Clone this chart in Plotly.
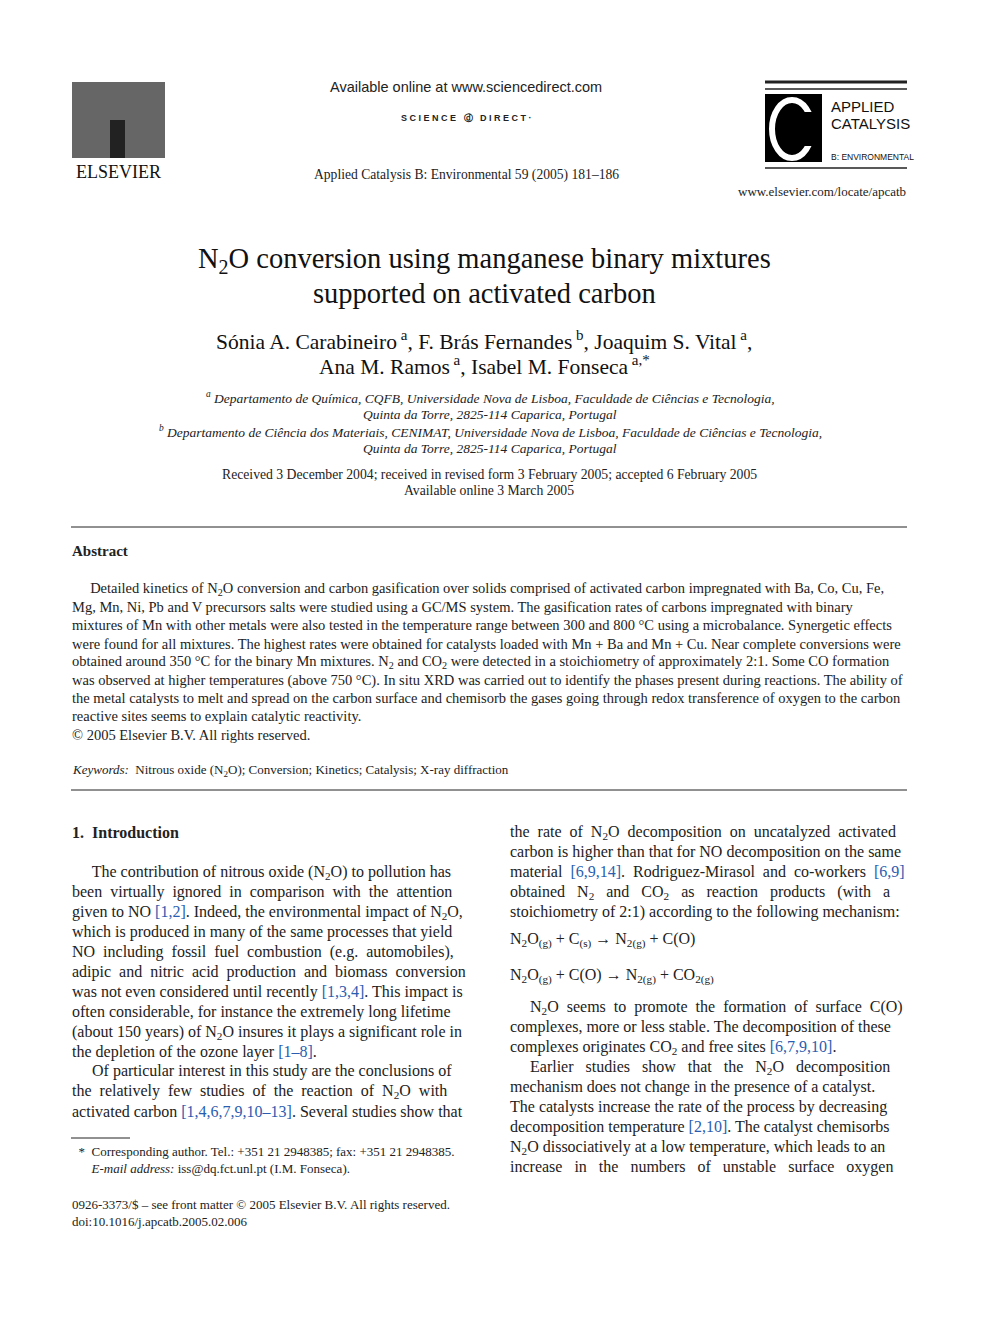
import plotly.graph_objects as go

W, H = 992, 1323
SERIF = "Liberation Serif"
OFF = 8  # page body margin offset

header_journal = "Applied Catalysis B: Environmental 59 (2005) 181–186"
title_lines = ["N<sub>2</sub>O conversion using manganese binary mixtures", "supported on activated carbon"]
author_lines = ["Sónia A. Carabineiro<sup> a</sup>, F. Brás Fernandes<sup> b</sup>, Joaquim S. Vital<sup> a</sup>,",
                "Ana M. Ramos<sup> a</sup>, Isabel M. Fonseca<sup> a,*</sup>"]
affil_lines = ["<sup>a</sup> Departamento de Química, CQFB, Universidade Nova de Lisboa, Faculdade de Ciências e Tecnologia,",
               "Quinta da Torre, 2825-114 Caparica, Portugal",
               "<sup>b</sup> Departamento de Ciência dos Materiais, CENIMAT, Universidade Nova de Lisboa, Faculdade de Ciências e Tecnologia,",
               "Quinta da Torre, 2825-114 Caparica, Portugal"]
dates = ["Received 3 December 2004; received in revised form 3 February 2005; accepted 6 February 2005",
         "Available online 3 March 2005"]
abstract_lines = [
 "     Detailed kinetics of N<sub>2</sub>O conversion and carbon gasification over solids comprised of activated carbon impregnated with Ba, Co, Cu, Fe,",
 "Mg, Mn, Ni, Pb and V precursors salts were studied using a GC/MS system. The gasification rates of carbons impregnated with binary",
 "mixtures of Mn with other metals were also tested in the temperature range between 300 and 800 °C using a microbalance. Synergetic effects",
 "were found for all mixtures. The highest rates were obtained for catalysts loaded with Mn + Ba and Mn + Cu. Near complete conversions were",
 "obtained around 350 °C for the binary Mn mixtures. N<sub>2</sub> and CO<sub>2</sub> were detected in a stoichiometry of approximately 2:1. Some CO formation",
 "was observed at higher temperatures (above 750 °C). In situ XRD was carried out to identify the phases present during reactions. The ability of",
 "the metal catalysts to melt and spread on the carbon surface and chemisorb the gases going through redox transference of oxygen to the carbon",
 "reactive sites seems to explain catalytic reactivity.",
 "© 2005 Elsevier B.V. All rights reserved."]
keywords = "<i>Keywords:</i>  Nitrous oxide (N<sub>2</sub>O); Conversion; Kinetics; Catalysis; X-ray diffraction"
left_col = [
 (832, "<b>1.  Introduction</b>"),
 (872, "     The contribution of nitrous oxide (N<sub>2</sub>O) to pollution has"),
 (892, "been  virtually  ignored  in  comparison  with  the  attention"),
 (912, "given to NO <span style='color:#2a5db0'>[1,2]</span>. Indeed, the environmental impact of N<sub>2</sub>O,"),
 (932, "which is produced in many of the same processes that yield"),
 (952, "NO  including  fossil  fuel  combustion  (e.g.  automobiles),"),
 (972, "adipic  and  nitric  acid  production  and  biomass  conversion"),
 (992, "was not even considered until recently <span style='color:#2a5db0'>[1,3,4]</span>. This impact is"),
 (1012, "often considerable, for instance the extremely long lifetime"),
 (1032, "(about 150 years) of N<sub>2</sub>O insures it plays a significant role in"),
 (1052, "the depletion of the ozone layer <span style='color:#2a5db0'>[1–8]</span>."),
 (1071, "     Of particular interest in this study are the conclusions of"),
 (1091, "the  relatively  few  studies  of  the  reaction  of  N<sub>2</sub>O  with"),
 (1111, "activated carbon <span style='color:#2a5db0'>[1,4,6,7,9,10–13]</span>. Several studies show that"),
]
right_col = [
 (832, "the  rate  of  N<sub>2</sub>O  decomposition  on  uncatalyzed  activated"),
 (852, "carbon is higher than that for NO decomposition on the same"),
 (872, "material  <span style='color:#2a5db0'>[6,9,14]</span>.  Rodriguez-Mirasol  and  co-workers  <span style='color:#2a5db0'>[6,9]</span>"),
 (892, "obtained   N<sub>2</sub>   and   CO<sub>2</sub>   as   reaction   products   (with   a"),
 (912, "stoichiometry of 2:1) according to the following mechanism:"),
 (940, "N<sub>2</sub>O<sub>(g)</sub> + C<sub>(s)</sub> → N<sub>2(g)</sub> + C(O)"),
 (976, "N<sub>2</sub>O<sub>(g)</sub> + C(O) → N<sub>2(g)</sub> + CO<sub>2(g)</sub>"),
 (1007, "     N<sub>2</sub>O  seems  to  promote  the  formation  of  surface  C(O)"),
 (1027, "complexes, more or less stable. The decomposition of these"),
 (1047, "complexes originates CO<sub>2</sub> and free sites <span style='color:#2a5db0'>[6,7,9,10]</span>."),
 (1067, "     Earlier   studies   show   that   the   N<sub>2</sub>O   decomposition"),
 (1087, "mechanism does not change in the presence of a catalyst."),
 (1107, "The catalysts increase the rate of the process by decreasing"),
 (1127, "decomposition temperature <span style='color:#2a5db0'>[2,10]</span>. The catalyst chemisorbs"),
 (1147, "N<sub>2</sub>O dissociatively at a low temperature, which leads to an"),
 (1167, "increase   in   the   numbers   of   unstable   surface   oxygen"),
]
footnote = ["  *  Corresponding author. Tel.: +351 21 2948385; fax: +351 21 2948385.",
            "      <i>E-mail address:</i> iss@dq.fct.unl.pt (I.M. Fonseca)."]
bottom = ["0926-3373/$ – see front matter © 2005 Elsevier B.V. All rights reserved.",
          "doi:10.1016/j.apcatb.2005.02.006"]

fig = go.Figure()
ann = []
def t(x, y, s, size=15, anchor="left", color="#222", family=SERIF):
    ann.append(dict(x=x - OFF, y=y - OFF, text=s, xanchor=anchor, yanchor="middle", showarrow=False,
                    font=dict(family=family, size=size, color=color), xref="x", yref="y", borderpad=0))

shapes = []
def rect(x0, y0, x1, y1, fill="black"):
    shapes.append(dict(type="rect", x0=x0 - OFF, y0=y0 - OFF, x1=x1 - OFF, y1=y1 - OFF, xref="x", yref="y",
                       fillcolor=fill, line=dict(width=0)))
def hline(x0, x1, y, w=1):
    shapes.append(dict(type="line", x0=x0 - OFF, x1=x1 - OFF, y0=y - OFF, y1=y - OFF, xref="x", yref="y",
                       line=dict(color="#222", width=w)))

t(466, 87, "Available online at www.sciencedirect.com", 14.5, "center", family="Liberation Sans")
t(466, 118, "<b>S C I E N C E   ⓓ   D I R E C T ·</b>", 9, "center", family="Liberation Sans")
t(466, 175, header_journal, 13.6, "center")
t(118, 172, "ELSEVIER", 18, "center", "#111")
t(907, 191, "www.elsevier.com/locate/apcatb", 13, "right")
t(830, 106, "APPLIED", 15, "left", "#111", "Liberation Sans")
t(830, 123, "CATALYSIS", 15, "left", "#111", "Liberation Sans")
t(830, 157, "B: ENVIRONMENTAL", 8.5, "left", "#111", "Liberation Sans")

rect(72, 82, 165, 158, "#666")
rect(110, 120, 125, 158, "#222")
hline(765, 907, 82, 3); hline(765, 907, 89, 1.5)
rect(765, 94, 822, 162, "black")
shapes.append(dict(type="circle", x0=772 - OFF, y0=100 - OFF, x1=812 - OFF, y1=158 - OFF, xref="x", yref="y",
                   line=dict(color="white", width=6)))
rect(796, 112, 822, 146, "black")
hline(765, 907, 168, 1.5)

for i, s in enumerate(title_lines):
    t(484, 260 + 33 * i, s, 28.5, "center", "#111")
for i, s in enumerate(author_lines):
    t(484, 340 + 25 * i, s, 21.5, "center", "#111")
for i, s in enumerate(affil_lines):
    t(490, 397 + 17 * i, "<i>" + s + "</i>", 13.5, "center")
for i, s in enumerate(dates):
    t(489, 474 + 16 * i, s, 13.7, "center")
hline(71, 907, 527)
t(71, 551, "<b>Abstract</b>", 15)
for i, s in enumerate(abstract_lines):
    t(71, 589 + 18.2 * i, s, 14.5)
t(71, 770, keywords, 13)
hline(71, 907, 790)
for y, s in left_col:
    t(71, y, s, 16)
for y, s in right_col:
    t(509, y, s, 16)
hline(71, 130, 1138)
for i, s in enumerate(footnote):
    t(71, 1151 + 17 * i, s, 13)
for i, s in enumerate(bottom):
    t(71, 1204 + 17 * i, s, 13)

fig.update_layout(width=W, height=H, margin=dict(l=0, r=0, t=0, b=0),
                  paper_bgcolor="white", plot_bgcolor="white",
                  xaxis=dict(range=[0, W], visible=False, fixedrange=True),
                  yaxis=dict(range=[H, 0], visible=False, fixedrange=True),
                  annotations=ann, shapes=shapes, showlegend=False)
fig.write_html("out.html")
